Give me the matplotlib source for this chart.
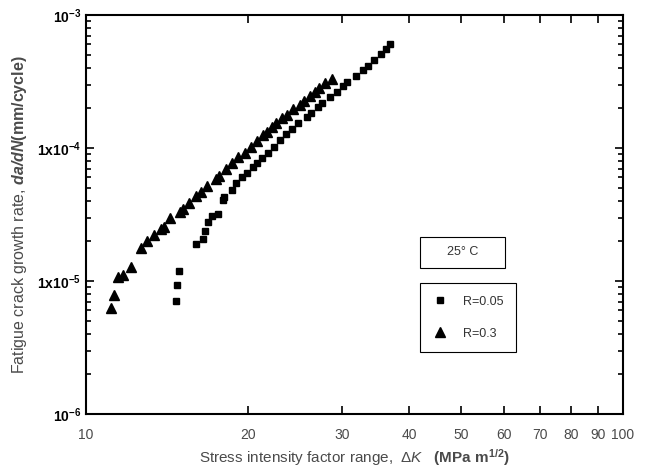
import matplotlib
matplotlib.use("Agg")
import matplotlib.pyplot as plt
from matplotlib.patches import Rectangle
from matplotlib.ticker import FixedLocator, NullLocator, LogLocator, NullFormatter

plt.rcParams['font.family'] = ['Liberation Sans', 'DejaVu Sans']
plt.rcParams['mathtext.fontset'] = 'custom'
plt.rcParams['mathtext.rm'] = 'Liberation Sans'
plt.rcParams['mathtext.it'] = 'Liberation Sans:italic'
plt.rcParams['mathtext.bf'] = 'Liberation Sans:bold'
plt.rcParams['mathtext.bfit'] = 'Liberation Sans:italic:bold'

# R = 0.05 (squares)
dk_r005 = [14.71, 14.75, 14.90, 16.03, 16.50, 16.66, 16.89, 17.14, 17.63, 18.02,
           18.07, 18.67, 19.02, 19.49, 19.92, 20.44, 20.84, 21.24, 21.86, 22.39,
           22.98, 23.58, 24.16, 24.86, 25.76, 26.21, 27.07, 27.47, 28.47, 29.38,
           30.07, 30.67, 31.83, 32.75, 33.55, 34.38, 35.38, 36.20, 36.83]
dadn_r005 = [7.11e-6, 9.33e-6, 1.19e-5, 1.89e-5, 2.06e-5, 2.39e-5, 2.79e-5, 3.08e-5,
             3.19e-5, 4.06e-5, 4.30e-5, 4.83e-5, 5.43e-5, 6.08e-5, 6.52e-5, 7.23e-5,
             7.75e-5, 8.37e-5, 9.22e-5, 1.023e-4, 1.148e-4, 1.274e-4, 1.382e-4,
             1.533e-4, 1.70e-4, 1.84e-4, 2.04e-4, 2.19e-4, 2.43e-4, 2.65e-4, 2.92e-4,
             3.15e-4, 3.48e-4, 3.86e-4, 4.14e-4, 4.59e-4, 5.09e-4, 5.52e-4, 6.05e-4]

# R = 0.3 (triangles)
dk_r03 = [11.13, 11.27, 11.46, 11.73, 12.11, 12.64, 13.00, 13.38, 13.77, 13.97,
          14.34, 14.96, 15.18, 15.57, 16.03, 16.35, 16.82, 17.46, 17.71, 18.23,
          18.67, 19.21, 19.77, 20.26, 20.79, 21.33, 21.70, 22.17, 22.59, 23.15,
          23.65, 24.27, 25.04, 25.47, 26.13, 26.70, 27.19, 27.87, 28.68]
dadn_r03 = [6.30e-6, 7.84e-6, 1.07e-5, 1.11e-5, 1.28e-5, 1.78e-5, 2.00e-5, 2.22e-5,
            2.45e-5, 2.56e-5, 2.96e-5, 3.32e-5, 3.46e-5, 3.88e-5, 4.36e-5, 4.69e-5,
            5.21e-5, 5.81e-5, 6.16e-5, 6.95e-5, 7.67e-5, 8.51e-5, 9.22e-5, 1.01e-4,
            1.135e-4, 1.25e-4, 1.33e-4, 1.43e-4, 1.53e-4, 1.67e-4, 1.77e-4, 1.95e-4,
            2.10e-4, 2.27e-4, 2.46e-4, 2.65e-4, 2.81e-4, 3.06e-4, 3.28e-4]

x_ticks = [10, 20, 30, 40, 50, 60, 70, 80, 90, 100]
y_ticks = [1e-6, 1e-5, 1e-4, 1e-3]
y_labels = [r'$\mathbf{10^{-6}}$', r'$\mathbf{1x10^{-5}}$', r'$\mathbf{1x10^{-4}}$', r'$\mathbf{10^{-3}}$']

grey = '#4a4a4a'

fig = plt.figure(figsize=(6.51, 4.68), dpi=100)
ax = fig.add_axes([0.1321, 0.1154, 0.8249, 0.8526])

ax.plot(dk_r005, dadn_r005, 's', color='black', markersize=5, label='R=0.05')
ax.plot(dk_r03, dadn_r03, '^', color='black', markersize=6.5, label='R=0.3')

ax.set_xscale('log')
ax.set_yscale('log')
ax.set_xlim(10, 100)
ax.set_ylim(1e-6, 1e-3)

ax.xaxis.set_major_locator(FixedLocator(x_ticks))
ax.xaxis.set_minor_locator(NullLocator())
ax.set_xticklabels([str(v) for v in x_ticks], color=grey, fontsize=10)
ax.yaxis.set_major_locator(FixedLocator(y_ticks))
ax.yaxis.set_minor_locator(LogLocator(base=10, subs=range(2, 10)))
ax.yaxis.set_minor_formatter(NullFormatter())
ax.set_yticklabels(y_labels, fontsize=10)

ax.tick_params(which='both', direction='in', top=True, right=True, width=1.2)
ax.tick_params(which='major', length=6)
ax.tick_params(which='minor', length=3.5)
ax.tick_params(axis='x', pad=10)
for s in ax.spines.values():
    s.set_linewidth(1.5)

ax.set_xlabel(r'Stress intensity factor range,  $\mathit{\Delta K}$   $\mathbf{(MPa\ m^{1/2})}$',
              fontsize=11, color=grey, labelpad=4)
ax.set_ylabel(r'Fatigue crack growth rate, $\mathbfit{da/dN}\mathbf{(mm/cycle)}$',
              fontsize=11.5, color=grey, labelpad=6)

# temperature box
ax.add_patch(Rectangle((0.622, 0.365), 0.158, 0.079, transform=ax.transAxes,
                       fill=False, edgecolor='black', linewidth=0.8))
ax.text(0.701, 0.405, '25° C', transform=ax.transAxes, ha='center', va='center',
        fontsize=9, color='#333333')

leg = ax.legend(loc='upper left', bbox_to_anchor=(0.622, 0.328), fontsize=9,
                frameon=True, fancybox=False, edgecolor='black', framealpha=1,
                handlelength=1.2, handletextpad=1.2, labelspacing=1.6,
                borderpad=1.0, borderaxespad=0)
leg.get_frame().set_linewidth(0.8)
for t in leg.get_texts():
    t.set_color('#333333')

fig.savefig('out.png', dpi=100)
